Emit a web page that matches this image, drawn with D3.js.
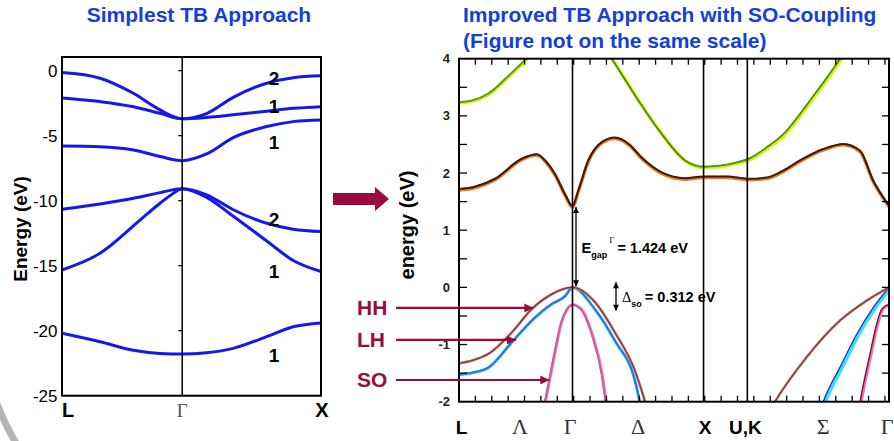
<!DOCTYPE html>
<html>
<head>
<meta charset="utf-8">
<script src="https://cdn.jsdelivr.net/npm/d3@7"></script>
<style>
  body { margin: 0; background: #fff; }
  text { font-family: "Liberation Sans", Arial, sans-serif; }
  .greek { font-family: "Liberation Serif", "DejaVu Serif", serif; }
</style>
</head>
<body>
<script>
var width = 894;
var height = 441;

// ---- left panel: simplest TB bands, [k, E] along L - Gamma - X
var leftTicks = [0, -5, -10, -15, -20, -25];
var leftKLabels = [["L", 0], ["\u0393", 0.866], ["X", 1.866]];
var band1 = [[0,-0.15],[0.274,-0.58],[0.514,-1.74],[0.706,-3.02],[0.866,-3.7],[1.042,-3.3],[1.234,-2.05],[1.475,-0.97],[1.666,-0.54],[1.866,-0.4]];
var band2 = [[0,-2.1],[0.274,-2.38],[0.514,-2.77],[0.706,-3.28],[0.866,-3.7],[1.042,-3.6],[1.234,-3.4],[1.475,-3.12],[1.666,-2.9],[1.866,-2.77]];
var band3 = [[0,-5.8],[0.274,-5.85],[0.514,-6.1],[0.706,-6.6],[0.866,-6.92],[1.042,-6.4],[1.234,-5.15],[1.475,-4.3],[1.666,-3.92],[1.866,-3.8]];
var band4 = [[0,-10.66],[0.274,-10.25],[0.514,-9.82],[0.706,-9.38],[0.866,-9.08],[1.042,-9.55],[1.234,-10.7],[1.475,-11.74],[1.666,-12.2],[1.866,-12.38]];
var band5 = [[0,-15.33],[0.274,-14.05],[0.562,-11.5],[0.706,-10.2],[0.793,-9.5],[0.866,-9.08],[1.042,-9.75],[1.234,-11.2],[1.475,-13.1],[1.666,-14.6],[1.866,-15.45]];
var band6 = [[0,-20.2],[0.274,-20.85],[0.514,-21.5],[0.706,-21.75],[0.866,-21.8],[1.042,-21.7],[1.234,-21.36],[1.475,-20.46],[1.666,-19.7],[1.866,-19.4]];
// degeneracy labels at X side: [text, E]
var degLabels = [["2", -0.55], ["1", -2.7], ["1", -5.5], ["2", -11.4], ["1", -15.4], ["1", -21.9]];

// ---- right panel: improved TB with SO coupling, k path L-G-X-U,K-G
var rightTicks = [-2, -1, 0, 1, 2, 3, 4];
var rightKLabels = [["L", 0.02, 0], ["\u039B", 0.465, 1], ["\u0393", 0.847, 1], ["\u0394", 1.366, 1], ["X", 1.877, 0], ["U,K", 2.186, 0], ["\u03A3", 2.778, 1], ["\u0393", 3.266, 1]];
var symLines = [0.866, 1.866, 2.2];
var greenL = [[0,3.24],[0.1,3.27],[0.224,3.39],[0.376,3.70],[0.511,4.0],[0.6,4.25]];
var greenR = [[1.10,4.22],[1.165,4.0],[1.368,3.27],[1.547,2.68],[1.725,2.22],[1.866,2.11],[1.99,2.13],[2.09,2.17],[2.22,2.26],[2.348,2.45],[2.475,2.68],[2.678,3.27],[2.907,4.0],[2.97,4.22]];
var brown = [[0,1.72],[0.12,1.76],[0.275,1.90],[0.478,2.25],[0.593,2.33],[0.669,2.19],[0.733,1.98],[0.809,1.63],[0.866,1.424],[0.91,1.69],[0.987,2.22],[1.089,2.54],[1.19,2.62],[1.30,2.5],[1.394,2.27],[1.547,2.01],[1.725,1.91],[1.866,1.94],[2.05,1.94],[2.2,1.90],[2.348,1.92],[2.48,2.05],[2.602,2.22],[2.78,2.42],[2.933,2.51],[3.06,2.39],[3.16,1.87],[3.281,1.43]];
var hh1 = [[0,-1.33],[0.1,-1.28],[0.224,-1.165],[0.402,-0.79],[0.555,-0.38],[0.707,-0.12],[0.866,0],[1.038,-0.26],[1.19,-0.79],[1.343,-1.46],[1.42,-2.0],[1.46,-2.3]];
var lh1 = [[0,-1.52],[0.1,-1.49],[0.224,-1.40],[0.402,-0.96],[0.555,-0.58],[0.707,-0.29],[0.809,-0.15],[0.866,0],[1.038,-0.38],[1.19,-0.93],[1.343,-1.63],[1.381,-2.0],[1.42,-2.3]];
var so1 = [[0.62,-2.4],[0.656,-2.0],[0.707,-1.40],[0.784,-0.58],[0.834,-0.35],[0.866,-0.30],[0.90,-0.33],[0.937,-0.40],[1.013,-0.82],[1.089,-1.52],[1.119,-2.0],[1.14,-2.3]];
var hh2 = [[2.36,-2.2],[2.411,-2.0],[2.653,-1.22],[2.907,-0.58],[3.111,-0.23],[3.281,0]];
var lh2 = [[2.75,-2.2],[2.78,-2.0],[2.907,-1.40],[3.035,-0.82],[3.162,-0.35],[3.281,0]];
var so2 = [[3.045,-2.2],[3.06,-2.0],[3.136,-1.165],[3.187,-0.64],[3.226,-0.38],[3.281,-0.30]];
var egap = 1.424;
var deltaSo = [0.09, -0.41];
// HH / LH / SO pointers: [label, E, k of arrow tip]
var pointers = [["HH", -0.36, 0.567], ["LH", -0.92, 0.435], ["SO", -1.62, 0.689]];

var blueTitle = "#1440d8";
var maroon = "#9b0a3c";

var svg = d3.select("body").append("svg")
    .attr("width", width)
    .attr("height", height);

var defs = svg.append("defs");
defs.append("marker")
    .attr("id", "redhead")
    .attr("viewBox", "0 -5 10 10")
    .attr("refX", 10).attr("refY", 0)
    .attr("markerUnits", "userSpaceOnUse")
    .attr("markerWidth", 10).attr("markerHeight", 9)
    .attr("orient", "auto")
    .append("path").attr("d", "M0,-5L10,0L0,5Z").attr("fill", maroon);
defs.append("marker")
    .attr("id", "blackhead")
    .attr("viewBox", "0 -5 10 10")
    .attr("refX", 10).attr("refY", 0)
    .attr("markerUnits", "userSpaceOnUse")
    .attr("markerWidth", 8).attr("markerHeight", 6)
    .attr("orient", "auto-start-reverse")
    .append("path").attr("d", "M0,-5L10,0L0,5Z").attr("fill", "#000");

// grey decoration bottom-left
svg.append("path")
    .attr("d", "M-6,396 Q4,424 19,448")
    .attr("fill", "none")
    .attr("stroke", "#b4b4b4")
    .attr("stroke-width", 7);

// ================= LEFT PANEL =================
var xL = d3.scaleLinear().domain([0, 1.866]).range([62, 321]);
var yL = d3.scaleLinear().domain([-25, 1.05]).range([395.7, 57]);
var lineL = d3.line()
    .x(function(d) { return xL(d[0]); })
    .y(function(d) { return yL(d[1]); })
    .curve(d3.curveMonotoneX);

var gL = svg.append("g");

gL.append("text")
    .attr("x", 199).attr("y", 21.5)
    .attr("text-anchor", "middle")
    .style("font-size", "21px").style("font-weight", "bold")
    .attr("fill", blueTitle)
    .text("Simplest TB Approach");

gL.selectAll("path.band")
    .data([band1, band2, band3, band4, band5, band6])
    .enter().append("path")
    .attr("class", "band")
    .attr("d", lineL)
    .attr("fill", "none")
    .attr("stroke", "#1616ee")
    .attr("stroke-width", 3);

// gamma line + ticks
gL.append("line")
    .attr("x1", xL(0.866)).attr("x2", xL(0.866))
    .attr("y1", yL(1.05)).attr("y2", yL(-25))
    .attr("stroke", "#000").attr("stroke-width", 1.5);
gL.selectAll("line.gtick")
    .data(leftTicks)
    .enter().append("line")
    .attr("class", "gtick")
    .attr("x1", xL(0.866) - 4).attr("x2", xL(0.866))
    .attr("y1", function(d) { return yL(d); })
    .attr("y2", function(d) { return yL(d); })
    .attr("stroke", "#000").attr("stroke-width", 1.2);

gL.append("rect")
    .attr("x", xL(0)).attr("y", yL(1.05))
    .attr("width", xL(1.866) - xL(0))
    .attr("height", yL(-25) - yL(1.05))
    .attr("fill", "none")
    .attr("stroke", "#000").attr("stroke-width", 2);

gL.selectAll("text.ytick")
    .data(leftTicks)
    .enter().append("text")
    .attr("class", "ytick")
    .attr("x", 57.5)
    .attr("y", function(d) { return yL(d) + 6; })
    .attr("text-anchor", "end")
    .style("font-size", "17px")
    .text(function(d) { return d; });

gL.selectAll("text.klab")
    .data(leftKLabels)
    .enter().append("text")
    .attr("class", function(d) { return d[0] === "\u0393" ? "klab greek" : "klab"; })
    .attr("x", function(d, i) { return i === 2 ? xL(d[1]) + 1 : xL(d[1]); })
    .attr("y", 417)
    .attr("text-anchor", function(d, i) { return i === 0 ? "start" : "middle"; })
    .style("font-size", function(d) { return d[0] === "\u0393" ? "19px" : "20px"; })
    .style("font-weight", function(d) { return d[0] === "\u0393" ? "normal" : "bold"; })
    .attr("fill", function(d) { return d[0] === "\u0393" ? "#555" : "#000"; })
    .text(function(d) { return d[0]; });

gL.selectAll("text.deg")
    .data(degLabels)
    .enter().append("text")
    .attr("class", "deg")
    .attr("x", 274)
    .attr("y", function(d) { return yL(d[1]) + 7; })
    .attr("text-anchor", "middle")
    .style("font-size", "19px").style("font-weight", "bold")
    .text(function(d) { return d[0]; });

gL.append("text")
    .attr("transform", "translate(26.5,229) rotate(-90)")
    .attr("text-anchor", "middle")
    .style("font-size", "19px").style("font-weight", "bold")
    .text("Energy (eV)");

// big arrow between panels
svg.append("path")
    .attr("d", "M333,193 L375,193 L375,187 L389,199 L375,211 L375,205 L333,205 Z")
    .attr("fill", maroon);

// ================= RIGHT PANEL =================
var xR = d3.scaleLinear().domain([0, 3.281]).range([459, 889]);
var yR = d3.scaleLinear().domain([-2, 4]).range([401.7, 58.7]);
var lineR = d3.line()
    .x(function(d) { return xR(d[0]); })
    .y(function(d) { return yR(d[1]); })
    .curve(d3.curveMonotoneX);

var gR = svg.append("g");

gR.append("text")
    .attr("x", 463).attr("y", 21.5)
    .style("font-size", "21px").style("font-weight", "bold")
    .attr("fill", blueTitle)
    .text("Improved TB Approach with SO-Coupling");
gR.append("text")
    .attr("x", 463).attr("y", 47.5)
    .style("font-size", "21px").style("font-weight", "bold")
    .attr("fill", blueTitle)
    .text("(Figure not on the same scale)");

defs.append("clipPath").attr("id", "clipR")
    .append("rect")
    .attr("x", xR(0)).attr("y", yR(4))
    .attr("width", xR(3.281) - xR(0))
    .attr("height", yR(-2) - yR(4));

var bands = gR.append("g").attr("clip-path", "url(#clipR)");

function drawBand(data, under, over, wUnder, wOver, dx, dy) {
    bands.append("path")
        .attr("d", lineR(data))
        .attr("transform", "translate(" + dx + "," + dy + ")")
        .attr("fill", "none").attr("stroke", under).attr("stroke-width", wUnder);
    bands.append("path")
        .attr("d", lineR(data))
        .attr("fill", "none").attr("stroke", over).attr("stroke-width", wOver);
}

drawBand(greenL, "#d6ea00", "#4e9c12", 3, 1.8, 0.8, 0.8);
drawBand(greenR, "#e2ee00", "#3f9418", 3.4, 1.8, 1, 1);
drawBand(brown, "#f07a1e", "#3a1a0a", 3.4, 2, 0, 1);
drawBand(so1, "#e58cc0", "#cc5c9c", 3, 2, 0.5, 0);
drawBand(lh1, "#5ab0f0", "#1a7ee6", 2.8, 2, 0, 0.5);
drawBand(hh1, "#8aa49c", "#b3302a", 2.7, 1.5, 0, 0);
drawBand(so2, "#e07ab8", "#8a1030", 3, 1.4, 1.2, 0);
drawBand(lh2, "#30e4f4", "#2038c8", 3, 1.5, 2.5, 0);
drawBand(hh2, "#8aa49c", "#b3302a", 2.7, 1.5, 0, 0);

gR.selectAll("line.sym")
    .data(symLines)
    .enter().append("line")
    .attr("class", "sym")
    .attr("x1", function(d) { return xR(d); })
    .attr("x2", function(d) { return xR(d); })
    .attr("y1", yR(4)).attr("y2", yR(-2))
    .attr("stroke", "#000").attr("stroke-width", 1.6);

// k ticks, top and bottom, every 0.125
var kTicks = d3.range(0, 3.281, 0.125).slice(1);
gR.selectAll("line.ktop")
    .data(kTicks)
    .enter().append("line")
    .attr("class", "ktop")
    .attr("x1", function(d) { return xR(d); })
    .attr("x2", function(d) { return xR(d); })
    .attr("y1", yR(4)).attr("y2", yR(4) + 6)
    .attr("stroke", "#000").attr("stroke-width", 1.3);
gR.selectAll("line.kbot")
    .data(kTicks)
    .enter().append("line")
    .attr("class", "kbot")
    .attr("x1", function(d) { return xR(d); })
    .attr("x2", function(d) { return xR(d); })
    .attr("y1", yR(-2)).attr("y2", yR(-2) - 6)
    .attr("stroke", "#000").attr("stroke-width", 1.3);

var eTicks = d3.range(-1.5, 4, 0.5);
gR.selectAll("line.eleft")
    .data(eTicks)
    .enter().append("line")
    .attr("class", "eleft")
    .attr("x1", xR(0)).attr("x2", xR(0) + 8)
    .attr("y1", function(d) { return yR(d); })
    .attr("y2", function(d) { return yR(d); })
    .attr("stroke", "#000").attr("stroke-width", 1.3);
gR.selectAll("line.eright")
    .data(eTicks)
    .enter().append("line")
    .attr("class", "eright")
    .attr("x1", xR(3.281)).attr("x2", xR(3.281) - 7)
    .attr("y1", function(d) { return yR(d); })
    .attr("y2", function(d) { return yR(d); })
    .attr("stroke", "#000").attr("stroke-width", 1.3);

gR.append("rect")
    .attr("x", xR(0)).attr("y", yR(4))
    .attr("width", xR(3.281) - xR(0))
    .attr("height", yR(-2) - yR(4))
    .attr("fill", "none")
    .attr("stroke", "#000").attr("stroke-width", 2);

gR.selectAll("text.ytick")
    .data(rightTicks)
    .enter().append("text")
    .attr("class", "ytick")
    .attr("x", 450)
    .attr("y", function(d) { return yR(d) + 4.5; })
    .attr("text-anchor", "end")
    .style("font-size", "13px").style("font-weight", "bold")
    .attr("fill", "#222")
    .text(function(d) { return d; });

gR.selectAll("text.klab")
    .data(rightKLabels)
    .enter().append("text")
    .attr("class", function(d) { return d[2] ? "klab greek" : "klab"; })
    .attr("x", function(d) { return xR(d[1]); })
    .attr("y", 434)
    .attr("text-anchor", "middle")
    .style("font-size", function(d) { return d[2] ? "22px" : "19px"; })
    .style("font-weight", function(d) { return d[2] ? "normal" : "bold"; })
    .attr("fill", function(d) { return d[2] ? "#333" : "#000"; })
    .text(function(d) { return d[0]; });

gR.append("text")
    .attr("transform", "translate(414,225) rotate(-90)")
    .attr("text-anchor", "middle")
    .style("font-size", "20px").style("font-weight", "bold")
    .text("energy (eV)");

// band gap arrow
gR.append("line")
    .attr("x1", xR(0.866) + 3.5).attr("x2", xR(0.866) + 3.5)
    .attr("y1", yR(egap) + 1).attr("y2", yR(0) - 1)
    .attr("stroke", "#000").attr("stroke-width", 1.3)
    .attr("marker-start", "url(#blackhead)")
    .attr("marker-end", "url(#blackhead)");
var eg = gR.append("text").attr("x", 581.5).attr("y", 253)
    .style("font-size", "14.5px").style("font-weight", "bold");
eg.append("tspan").text("E");
eg.append("tspan").attr("dy", 5).style("font-size", "9px").text("gap");
eg.append("tspan").attr("class", "greek").attr("dy", -15).attr("dx", 2)
    .style("font-size", "9px").style("font-weight", "normal").text("\u0393");
eg.append("tspan").attr("dy", 10).attr("dx", 3).text("= " + egap.toFixed(3) + " eV");

// spin-orbit splitting arrow
gR.append("line")
    .attr("x1", 616).attr("x2", 616)
    .attr("y1", yR(deltaSo[0])).attr("y2", yR(deltaSo[1]))
    .attr("stroke", "#000").attr("stroke-width", 1.3)
    .attr("marker-start", "url(#blackhead)")
    .attr("marker-end", "url(#blackhead)");
var ds = gR.append("text").attr("x", 622).attr("y", 301.5)
    .style("font-size", "14.5px").style("font-weight", "bold");
ds.append("tspan").attr("class", "greek").style("font-weight", "normal").text("\u0394");
ds.append("tspan").attr("dy", 5).style("font-size", "9px").text("so");
ds.append("tspan").attr("dy", -5).attr("dx", 3).text("= 0.312 eV");

// HH / LH / SO pointers
var ptr = svg.append("g");
ptr.selectAll("line")
    .data(pointers)
    .enter().append("line")
    .attr("x1", 396)
    .attr("x2", function(d) { return xR(d[2]); })
    .attr("y1", function(d) { return yR(d[1]); })
    .attr("y2", function(d) { return yR(d[1]); })
    .attr("stroke", maroon).attr("stroke-width", 2.2)
    .attr("marker-end", "url(#redhead)");
ptr.selectAll("text")
    .data(pointers)
    .enter().append("text")
    .attr("x", 357)
    .attr("y", function(d) { return yR(d[1]) + 7.5; })
    .style("font-size", "21px").style("font-weight", "bold")
    .attr("fill", maroon)
    .text(function(d) { return d[0]; });
</script>
</body>
</html>
